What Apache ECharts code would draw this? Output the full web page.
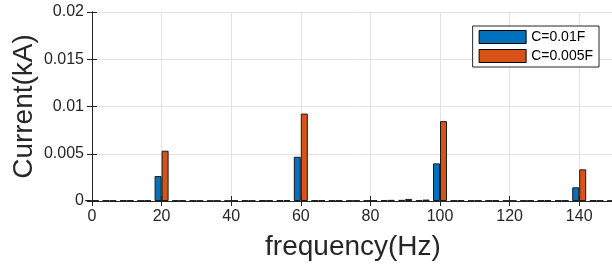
<!DOCTYPE html>
<html>
<head>
<meta charset="utf-8">
<script src="https://cdn.jsdelivr.net/npm/echarts@6/dist/echarts.min.js"></script>
<style>
  html, body { margin: 0; padding: 0; background: #fff; }
  #chart { width: 612px; height: 265px; }
</style>
</head>
<body>
<div id="chart"></div>
<script>
const freqs = [0, 5, 10, 15, 20, 25, 30, 35, 40, 45, 50, 55, 60, 65, 70, 75, 80, 85, 90, 95, 100, 105, 110, 115, 120, 125, 130, 135, 140, 145, 150];
const currentC1 = [0.00008, 0.00005, 0.00006, 0.00004, 0.00264, 0.00005, 0.00004, 0.00003, 0.00004, 0.00005, 0.00006, 0.00008, 0.00468, 0.00006, 0.00005, 0.00004, 0.00005, 0.00008, 0.00012, 0.00006, 0.00398, 0.00005, 0.00004, 0.00005, 0.00004, 0.00005, 0.00006, 0.00005, 0.00145, 0.00006, 0.00003];
const currentC2 = [0.00006, 0.00004, 0.00007, 0.00005, 0.00532, 0.00006, 0.00004, 0.00004, 0.00005, 0.00004, 0.00007, 0.00010, 0.00925, 0.00007, 0.00006, 0.00005, 0.00006, 0.00012, 0.00022, 0.00015, 0.00845, 0.00006, 0.00005, 0.00006, 0.00004, 0.00006, 0.00008, 0.00006, 0.00335, 0.00005, 0.00004];
const seriesNames = ['C=0.01F', 'C=0.005F'];

const chart = echarts.init(document.getElementById('chart'));
const font = 'Liberation Sans, Arial, sans-serif';
const axisColor = '#262626';

const pairs = (ys) => freqs.map((f, i) => [f, ys[i]]);

const option = {
  animation: false,
  textStyle: { fontFamily: font },
  grid: { left: 92, right: -2, top: 12, bottom: 64, outerBoundsMode: 'none' },
  legend: {
    data: seriesNames,
    icon: 'rect',
    orient: 'vertical',
    right: 13,
    top: 26,
    itemWidth: 47,
    itemHeight: 13,
    itemGap: 5,
    padding: [4, 6, 4, 6],
    borderColor: '#262626',
    borderWidth: 1,
    borderRadius: 0,
    backgroundColor: '#fff',
    textStyle: { fontSize: 14, color: '#000', fontFamily: font },
    itemStyle: { borderColor: '#000', borderWidth: 1 }
  },
  xAxis: [
    {
      type: 'value',
      min: 0,
      max: 150,
      interval: 20,
      name: 'frequency(Hz)',
      nameLocation: 'middle',
      nameGap: 32,
      nameMoveOverlap: false,
      nameTextStyle: { fontSize: 28, color: axisColor, fontFamily: font },
      axisLine: { lineStyle: { color: axisColor, width: 1 } },
      axisTick: { inside: true, length: 5, lineStyle: { color: axisColor } },
      axisLabel: { fontSize: 16, color: axisColor, margin: 8, showMaxLabel: false },
      splitLine: { show: true, lineStyle: { color: '#e3e3e3' } }
    },
    {
      type: 'value',
      position: 'top',
      min: 0,
      max: 150,
      interval: 20,
      axisLine: { show: true, lineStyle: { color: axisColor } },
      axisTick: { inside: true, length: 5, lineStyle: { color: axisColor } },
      axisLabel: { show: false },
      splitLine: { show: false }
    }
  ],
  yAxis: [
    {
      type: 'value',
      min: 0,
      max: 0.02,
      interval: 0.005,
      name: 'Current(kA)',
      nameLocation: 'middle',
      nameGap: 54,
      nameMoveOverlap: false,
      nameTextStyle: { fontSize: 28, color: axisColor, fontFamily: font },
      axisLine: { show: true, lineStyle: { color: axisColor } },
      axisTick: { show: true, inside: true, length: 5, lineStyle: { color: axisColor } },
      axisLabel: { fontSize: 16, color: axisColor, margin: 8 },
      splitLine: { show: true, lineStyle: { color: '#e3e3e3' } }
    },
    {
      type: 'value',
      position: 'right',
      min: 0,
      max: 0.02,
      interval: 0.005,
      axisLine: { show: true, lineStyle: { color: axisColor } },
      axisTick: { show: true, inside: true, length: 5, lineStyle: { color: axisColor } },
      axisLabel: { show: false },
      splitLine: { show: false }
    }
  ],
  series: [
    {
      name: seriesNames[0],
      type: 'bar',
      data: pairs(currentC1),
      barWidth: 7,
      barGap: '0%',
      itemStyle: { color: '#0072BD', borderColor: '#1a1a1a', borderWidth: 1 }
    },
    {
      name: seriesNames[1],
      type: 'bar',
      data: pairs(currentC2),
      barWidth: 7,
      barGap: '0%',
      itemStyle: { color: '#D95319', borderColor: '#1a1a1a', borderWidth: 1 }
    }
  ]
};

chart.setOption(option);
</script>
</body>
</html>
